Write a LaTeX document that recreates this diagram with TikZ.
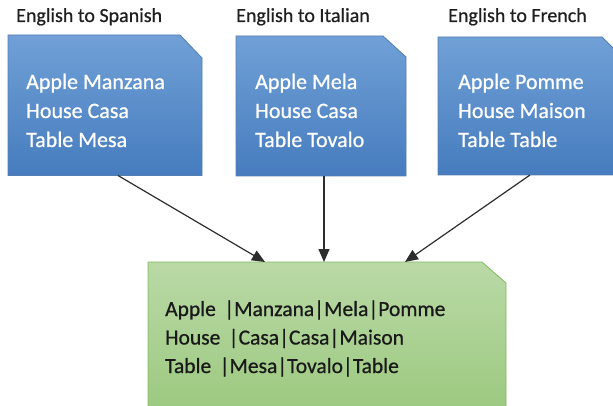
\documentclass[tikz,border=0pt]{standalone}
\usepackage{fontspec}
\setmainfont{Carlito}
\newfontfamily\panelfont{Carlito}[FakeBold=0.7]
\usetikzlibrary{arrows.meta,calc}

\definecolor{bluetop}{RGB}{112,160,214}
\definecolor{bluebot}{RGB}{70,124,190}
\definecolor{blueedge}{RGB}{84,126,178}
\definecolor{greentop}{RGB}{186,217,166}
\definecolor{greenbot}{RGB}{156,201,128}
\definecolor{greenedge}{RGB}{128,184,98}
\definecolor{linkgray}{RGB}{45,45,45}
\definecolor{darktext}{RGB}{25,25,25}

\tikzset{
  frame/.style={inner sep=0pt, outer sep=0pt, minimum width=#1},
  bluefill/.style={draw=blueedge, line width=0.8pt, top color=bluetop, bottom color=bluebot},
  greenfill/.style={draw=greenedge, line width=0.8pt, top color=greentop, bottom color=greenbot},
  title/.style={anchor=base west, inner sep=0pt, font=\panelfont\fontsize{20}{24}\selectfont, text=black!88},
  boxtext/.style={anchor=base west, inner sep=0pt, font=\panelfont\fontsize{22}{29}\selectfont},
  link/.style={draw=linkgray, line width=1.2pt, -{Triangle[length=13pt,width=11pt]}},
}

% snipped-corner panel drawn around a named frame node
\newcommand{\snippanel}[4]{% style, node, cut x, cut y
  \path[#1] (#2.south west) -- (#2.north west) -- ([xshift=-#3pt]#2.north east)
    -- ([yshift=-#4pt]#2.north east) -- (#2.south east) -- cycle;}

\begin{document}
\begin{tikzpicture}[x=1pt,y=-1pt]
  \useasboundingbox (0,0) rectangle (613,406);
  \clip (0,0) rectangle (613,406);

  % frames of the four panels
  \node[frame=194pt, minimum height=140.5pt] (es) at (105,105.25) {};
  \node[frame=170pt, minimum height=140pt] (ei) at (321,106) {};
  \node[frame=186pt, minimum height=138pt] (ef) at (531,106) {};
  \node[frame=358pt, minimum height=150pt] (all) at (327,337) {};

  % panels
  \snippanel{bluefill}{es}{22}{23}
  \snippanel{bluefill}{ei}{23}{21}
  \snippanel{bluefill}{ef}{22}{22}
  \snippanel{greenfill}{all}{24}{21}

  % headings
  \node[title] (tes) at (16,22) {English to Spanish};
  \node[title] (tei) at (236,22) {English to Italian};
  \node[title] (tef) at (448,22) {English to French};

  % dictionary entries
  \node[boxtext, text=white] (xes) at (26,89)
    {\begin{tabular}[t]{@{}l@{}}Apple Manzana\\House Casa\\Table Mesa\end{tabular}};
  \node[boxtext, text=white] (xei) at (255,89)
    {\begin{tabular}[t]{@{}l@{}}Apple Mela\\House Casa\\Table Tovalo\end{tabular}};
  \node[boxtext, text=white] (xef) at (458,89)
    {\begin{tabular}[t]{@{}l@{}}Apple Pomme\\House Maison\\Table Table\end{tabular}};
  \node[boxtext, text=darktext, font=\panelfont\fontsize{21.5}{28.5}\selectfont] (xall) at (165,316)
    {\begin{tabular}[t]{@{}l@{}}Apple\ \,|Manzana|Mela|Pomme\\House\ \,|Casa|Casa|Maison\\Table\ \,|Mesa|Tovalo|Table\end{tabular}};

  % merge arrows
  \draw[link] ([xshift=13pt]es.south) -- ([xshift=117pt]all.north west);
  \draw[link] ([xshift=3pt]ei.south) -- ([xshift=176pt]all.north west);
  \draw[link] ([xshift=-1pt]ef.south) -- ([xshift=257pt]all.north west);
\end{tikzpicture}
\end{document}
